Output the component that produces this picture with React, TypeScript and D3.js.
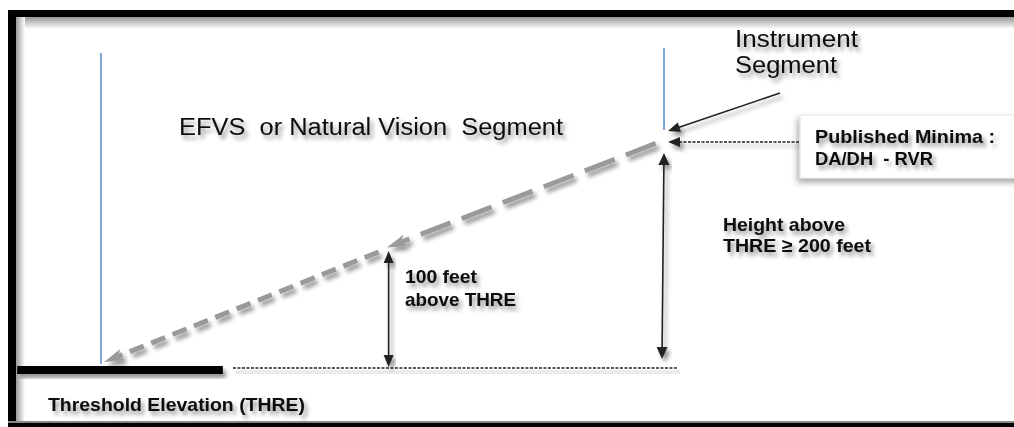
import React, { useRef, useEffect } from "react";
import * as d3 from "d3";

// approach profile: distance from threshold (arbitrary units) and height above THRE (feet)
const profileDistances = [0, 0.51, 1];
const profileHeights = [0, 100, 200];

// runway bar and reference (dotted) line extents, in distance units
const runwayExtent = [-0.151, 0.215];
const thresholdLineExtent = [0.233, 1.023];

const segmentLabel = ["EFVS  or Natural Vision  Segment"];
const instrumentLabel = ["Instrument", "Segment"];
const minimaLabel = ["Published Minima :", "DA/DH  - RVR"];
const heightLabel = ["Height above", "THRE \u2265 200 feet"];
const hundredLabel = ["100 feet", "above THRE"];
const thresholdLabel = ["Threshold Elevation (THRE)"];

const W = 1014;
const H = 427;

type Pt = [number, number];

export default function App() {
  const svgRef = useRef<SVGSVGElement>(null);

  useEffect(() => {
    const svg = d3.select(svgRef.current);
    svg.selectAll("*").remove();

    const x = d3.scaleLinear().domain([0, 1]).range([102, 664]);
    const y = d3.scaleLinear().domain([0, 200]).range([368, 140]);

    const defs = svg.append("defs");
    const shadow = defs
      .append("filter")
      .attr("id", "txtShadow")
      .attr("x", "-10%")
      .attr("y", "-30%")
      .attr("width", "130%")
      .attr("height", "190%");
    shadow
      .append("feDropShadow")
      .attr("dx", 3)
      .attr("dy", 4)
      .attr("stdDeviation", 2.2)
      .attr("flood-color", "#000")
      .attr("flood-opacity", 0.42);

    const boxShadow = defs
      .append("filter")
      .attr("id", "boxShadow")
      .attr("x", "-10%")
      .attr("y", "-20%")
      .attr("width", "130%")
      .attr("height", "160%");
    boxShadow
      .append("feDropShadow")
      .attr("dx", -2)
      .attr("dy", 4)
      .attr("stdDeviation", 3)
      .attr("flood-color", "#000")
      .attr("flood-opacity", 0.35);

    const gradTop = defs
      .append("linearGradient")
      .attr("id", "gTop")
      .attr("x1", 0)
      .attr("y1", 0)
      .attr("x2", 0)
      .attr("y2", 1);
    gradTop.append("stop").attr("offset", "0%").attr("stop-color", "#999");
    gradTop.append("stop").attr("offset", "100%").attr("stop-color", "#fff");
    const gradLeft = defs
      .append("linearGradient")
      .attr("id", "gLeft")
      .attr("x1", 0)
      .attr("y1", 0)
      .attr("x2", 1)
      .attr("y2", 0);
    gradLeft.append("stop").attr("offset", "0%").attr("stop-color", "#999");
    gradLeft.append("stop").attr("offset", "100%").attr("stop-color", "#fff");

    svg.append("rect").attr("width", W).attr("height", H).attr("fill", "#fff");

    // frame with inner shadow
    svg.append("rect").attr("x", 16).attr("y", 17).attr("width", W - 16).attr("height", 12).attr("fill", "url(#gTop)");
    svg.append("rect").attr("x", 16).attr("y", 17).attr("width", 9).attr("height", H - 17).attr("fill", "url(#gLeft)");
    svg.append("rect").attr("x", 8).attr("y", 10).attr("width", W - 8).attr("height", 7).attr("fill", "#000");
    svg.append("rect").attr("x", 8).attr("y", 10).attr("width", 8).attr("height", H - 10).attr("fill", "#000");
    svg.append("rect").attr("x", 8).attr("y", 421).attr("width", W - 8).attr("height", 2).attr("fill", "#888");
    svg.append("rect").attr("x", 8).attr("y", 423).attr("width", W - 8).attr("height", 4).attr("fill", "#000");

    const g = svg.append("g");

    // blue vertical segment markers
    g.append("line")
      .attr("x1", x(profileDistances[0]) - 1)
      .attr("x2", x(profileDistances[0]) - 1)
      .attr("y1", 53)
      .attr("y2", y(0) - 4)
      .attr("stroke", "#7ea6d8")
      .attr("stroke-width", 2);
    g.append("line")
      .attr("x1", x(profileDistances[2]))
      .attr("x2", x(profileDistances[2]))
      .attr("y1", 48)
      .attr("y2", y(profileHeights[2]) - 10)
      .attr("stroke", "#7ea6d8")
      .attr("stroke-width", 2);

    // runway bar
    g.append("rect")
      .attr("x", x(runwayExtent[0]))
      .attr("y", y(0) - 2)
      .attr("width", x(runwayExtent[1]) - x(runwayExtent[0]))
      .attr("height", 8)
      .attr("fill", "#000")
      .attr("filter", "url(#txtShadow)");

    // threshold elevation dotted line (soft shadow drawn as a blurred-looking second line)
    g.append("line")
      .attr("x1", x(thresholdLineExtent[0]) + 3)
      .attr("x2", x(thresholdLineExtent[1]) + 3)
      .attr("y1", y(0) + 4)
      .attr("y2", y(0) + 4)
      .attr("stroke", "#000")
      .attr("stroke-opacity", 0.08)
      .attr("stroke-width", 4);
    g.append("line")
      .attr("x1", x(thresholdLineExtent[0]))
      .attr("x2", x(thresholdLineExtent[1]))
      .attr("y1", y(0))
      .attr("y2", y(0))
      .attr("stroke", "#222")
      .attr("stroke-width", 1.4)
      .attr("stroke-dasharray", "3,1.5");

    const head = (tip: Pt, from: Pt, len: number, wid: number, notch: number) => {
      const dx = tip[0] - from[0];
      const dy = tip[1] - from[1];
      const L = Math.hypot(dx, dy);
      const ux = dx / L;
      const uy = dy / L;
      const bx = tip[0] - ux * len;
      const by = tip[1] - uy * len;
      const nx = -uy;
      const ny = ux;
      const p = d3.path();
      p.moveTo(tip[0], tip[1]);
      p.lineTo(bx + nx * wid, by + ny * wid);
      p.lineTo(tip[0] - ux * (len - notch), tip[1] - uy * (len - notch));
      p.lineTo(bx - nx * wid, by - ny * wid);
      p.closePath();
      return p.toString();
    };
    const shorten = (a: Pt, b: Pt, d: number): Pt => {
      const L = Math.hypot(b[0] - a[0], b[1] - a[1]);
      return [b[0] - ((b[0] - a[0]) / L) * d, b[1] - ((b[1] - a[1]) / L) * d];
    };

    const arrow = (
      from: Pt,
      to: Pt,
      opts: { color: string; width: number; dash?: string; len: number; wid: number; notch: number; both?: boolean }
    ) => {
      const grp = g.append("g").attr("filter", "url(#txtShadow)");
      const end = shorten(from, to, opts.len - opts.notch - 1);
      const start = opts.both ? shorten(to, from, opts.len - opts.notch - 1) : from;
      grp
        .append("line")
        .attr("x1", start[0])
        .attr("y1", start[1])
        .attr("x2", end[0])
        .attr("y2", end[1])
        .attr("stroke", opts.color)
        .attr("stroke-width", opts.width)
        .attr("stroke-dasharray", opts.dash || null);
      grp.append("path").attr("d", head(to, from, opts.len, opts.wid, opts.notch)).attr("fill", opts.color);
      if (opts.both)
        grp.append("path").attr("d", head(from, to, opts.len, opts.wid, opts.notch)).attr("fill", opts.color);
    };

    // glide path (dashed grey), split at the 100 ft point
    const pts: Pt[] = profileDistances.map((d, i) => [x(d), y(profileHeights[i])]);
    const upperStart = shorten(pts[1], pts[2], 9);
    const upperEnd = shorten(pts[2], pts[1], -4);
    arrow(upperStart, [upperEnd[0] + 2, upperEnd[1] - 8], {
      color: "#9a9a9a",
      width: 5,
      dash: "32,12",
      len: 20,
      wid: 6,
      notch: 5,
    });
    const lowerStart: Pt = [pts[1][0] - 10, pts[1][1] - 2];
    const lowerEnd: Pt = [pts[0][0] + 2, pts[0][1] - 6];
    arrow(lowerStart, lowerEnd, {
      color: "#9a9a9a",
      width: 5,
      dash: "15,8",
      len: 20,
      wid: 6,
      notch: 5,
    });

    // height arrows
    arrow([x(profileDistances[1]), y(profileHeights[1]) - 3], [x(profileDistances[1]), y(0) - 1], {
      color: "#222",
      width: 1.6,
      len: 12,
      wid: 5,
      notch: 0,
      both: true,
    });
    arrow([x(profileDistances[2]), y(profileHeights[2]) + 13], [x(profileDistances[2]) - 2, y(0) - 9], {
      color: "#222",
      width: 1.6,
      len: 12,
      wid: 5.5,
      notch: 0,
      both: true,
    });

    // instrument segment pointer
    arrow([780, 93], [x(profileDistances[2]) + 4, y(profileHeights[2]) - 9], {
      color: "#222",
      width: 1.6,
      len: 12,
      wid: 5,
      notch: 0,
    });

    // published minima pointer (dotted)
    const minimaY = y(profileHeights[2]) + 2;
    arrow([808, minimaY], [x(profileDistances[2]) + 4, minimaY], {
      color: "#222",
      width: 1.3,
      dash: "3,1.5",
      len: 12,
      wid: 5,
      notch: 0,
    });

    // minima box
    g.append("rect")
      .attr("x", 800)
      .attr("y", 115)
      .attr("width", 230)
      .attr("height", 63)
      .attr("fill", "#fff")
      .attr("stroke", "#e4e4e4")
      .attr("filter", "url(#boxShadow)");

    const label = (lines: string[], x0: number, baselines: number[], widths: number[], size: number, bold: boolean) => {
      lines.forEach((t, i) => {
        g.append("text")
          .attr("x", x0)
          .attr("y", baselines[i])
          .attr("textLength", widths[i])
          .attr("lengthAdjust", "spacingAndGlyphs")
          .attr("font-family", "Liberation Sans, Arial, sans-serif")
          .attr("font-size", size)
          .attr("font-weight", bold ? "bold" : "normal")
          .attr("fill", "#0a0a0a")
          .attr("filter", "url(#txtShadow)")
          .style("white-space", "pre")
          .text(t);
      });
    };

    label(segmentLabel, 179, [135], [384], 23.5, false);
    label(instrumentLabel, 735, [47, 73], [123, 102], 23.5, false);
    label(minimaLabel, 815, [143, 165], [180, 118], 19, true);
    label(heightLabel, 723, [231, 252], [122, 148], 19, true);
    label(hundredLabel, 405, [283, 306], [72, 111], 19, true);
    label(thresholdLabel, 48, [411], [257], 19, true);
  }, []);

  return (
    <svg
      ref={svgRef}
      width={W}
      height={H}
      style={{ position: "absolute", left: 0, top: 0, display: "block" }}
    />
  );
}
